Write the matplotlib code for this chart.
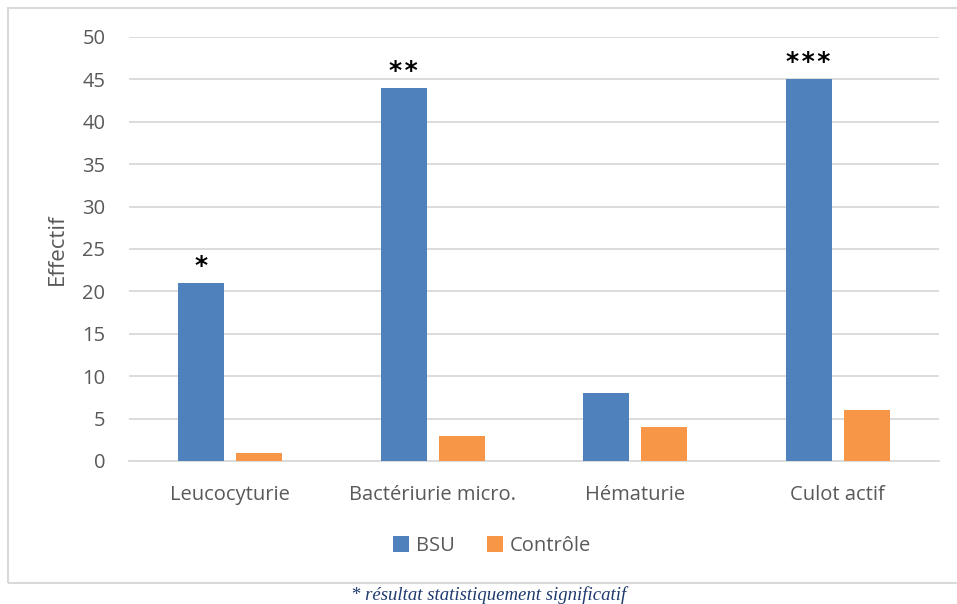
import numpy as np
import matplotlib.pyplot as plt
from matplotlib.patches import Rectangle

# DATA
categories = ['Leucocyturie', 'Bactériurie micro.', 'Hématurie', 'Culot actif']
bsu = [21, 44, 8, 45]
controle = [1, 3, 4, 6]
signif = ['*', '**', '', '***']
series_names = ['BSU', 'Contrôle']
note = '* résultat statistiquement significatif'

# STYLE
blue = '#4F81BD'
orange = '#F79646'
grey_txt = '#595959'
grid_col = '#D9D9D9'
plt.rcParams['font.family'] = ['Open Sans', 'DejaVu Sans']

fig = plt.figure(figsize=(9.57, 6.04), dpi=100)
W, H = 957, 604

# chart area border (right side runs off the picture)
fig.patches.append(Rectangle((8 / W, 1 - 583 / H), 1.0, (583 - 8) / H,
                             transform=fig.transFigure, fill=False,
                             edgecolor=grid_col, linewidth=1.5))

ax = fig.add_axes([129 / W, 1 - 461 / H, (939 - 129) / W, (461 - 37) / H])

x = np.arange(len(categories))
w = 0.227
off = 0.144
b1 = ax.bar(x - off, bsu, w, color=blue, label=series_names[0], zorder=3)
b2 = ax.bar(x + off, controle, w, color=orange, label=series_names[1], zorder=3)

for xi, v, s in zip(x, bsu, signif):
    if s:
        ax.text(xi - off, v + 0.6, '\u200a'.join(s), ha='center', va='bottom',
                fontsize=18, fontweight='bold', color='black',
                family='DejaVu Sans')

ax.set_xlim(-0.5, len(categories) - 0.5)
ax.set_ylim(0, 50)
ax.set_yticks(range(0, 51, 5))
ax.set_xticks(x)
ax.set_xticklabels(categories)
ax.tick_params(axis='both', length=0, labelsize=14.5, colors=grey_txt)
ax.tick_params(axis='y', pad=17)
ax.tick_params(axis='x', pad=17)
ax.yaxis.grid(True, color=grid_col, linewidth=1.3, zorder=0)
for side in ['top', 'right', 'left']:
    ax.spines[side].set_visible(False)
ax.spines['bottom'].set_color(grid_col)
ax.spines['bottom'].set_linewidth(1.3)

fig.text(57 / W, 1 - 249 / H, 'Effectif', rotation=90, ha='center', va='center',
         fontsize=16, color=grey_txt)

fig.legend(handles=[b1, b2], loc='center', bbox_to_anchor=(492 / W, 1 - 546 / H),
           ncol=2, frameon=False, fontsize=14.5, labelcolor=grey_txt,
           handlelength=0.8, handleheight=0.8, handletextpad=0.35,
           columnspacing=1.6)

fig.text(489 / W, 1 - 595 / H, note, ha='center', va='center',
         fontsize=13.5, style='italic', color='#1F3A6E',
         family='Liberation Serif')

fig.savefig('out.png', dpi=100)
